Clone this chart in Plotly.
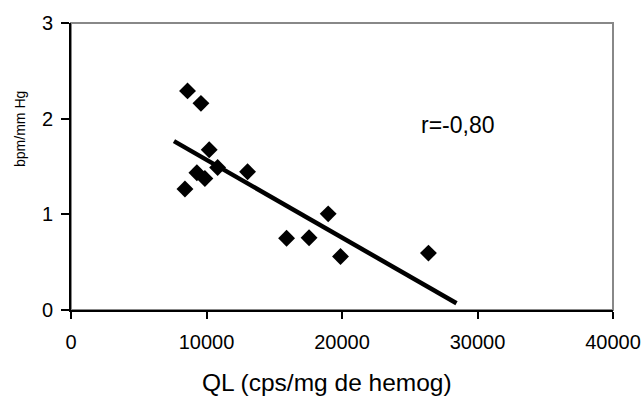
import plotly.graph_objects as go

# Data
ql = [8600, 9590, 10200, 10820, 9290, 9880, 13030, 8410, 15910, 17570, 18980, 19890, 26380]
bpm = [2.29, 2.16, 1.675, 1.49, 1.435, 1.375, 1.445, 1.265, 0.75, 0.755, 1.005, 0.56, 0.595]

trend_x = [7600, 28450]
trend_y = [1.765, 0.07]

annot_text = "r=-0,80"
annot_x = 28550
annot_y = 1.93

x_ticks = [0, 10000, 20000, 30000, 40000]
y_ticks = [0, 1, 2, 3]

x_title = "QL (cps/mg de hemog)"
y_title = "bpm/mm Hg"

FONT = "Liberation Sans, Arial, sans-serif"
NARROW = "Liberation Sans Narrow, Arial Narrow, Liberation Sans, sans-serif"

fig = go.Figure()
fig.add_trace(go.Scatter(
    x=ql, y=bpm, mode="markers",
    marker=dict(symbol="diamond", size=13, color="black", line=dict(width=0)),
    showlegend=False, hoverinfo="skip"))
fig.add_trace(go.Scatter(
    x=trend_x, y=trend_y, mode="lines",
    line=dict(color="black", width=4.5),
    showlegend=False, hoverinfo="skip"))

fig.add_annotation(x=annot_x, y=annot_y, text=annot_text, showarrow=False,
                   font=dict(family=FONT, size=23, color="black"))

fig.add_annotation(xref="paper", yref="paper", x=0.472, y=-0.252, text=x_title,
                   showarrow=False, xanchor="center", yanchor="middle",
                   font=dict(family=FONT, size=24.5, color="black"))
fig.add_annotation(xref="paper", yref="paper", x=-0.094, y=0.631, text=y_title,
                   showarrow=False, xanchor="center", yanchor="middle", textangle=-90,
                   font=dict(family=NARROW, size=14, color="black"))

fig.add_shape(type="rect", xref="paper", yref="paper", x0=0, y0=0, x1=1, y1=1,
              line=dict(color="#888888", width=2), layer="below")

fig.update_layout(
    width=643, height=398,
    margin=dict(l=71, r=30, t=23, b=88, autoexpand=False),
    paper_bgcolor="white", plot_bgcolor="white",
    font=dict(family=FONT, color="black"),
    xaxis=dict(range=[0, 40000], tickvals=x_ticks, ticktext=[str(v) for v in x_ticks],
               showgrid=False, zeroline=False, showline=True, linecolor="black", linewidth=2,
               ticks="outside", ticklen=7, tickwidth=1.5, tickcolor="black",
               tickfont=dict(size=20, family=FONT), automargin=False, ticklabelstandoff=6),
    yaxis=dict(range=[0, 3], tickvals=y_ticks, ticktext=[str(v) for v in y_ticks],
               showgrid=False, zeroline=False, showline=True, linecolor="black", linewidth=2,
               ticks="outside", ticklen=8, tickwidth=1.5, tickcolor="black",
               tickfont=dict(size=20, family=FONT), automargin=False, ticklabelstandoff=4),
)

fig.write_html("out.html")
